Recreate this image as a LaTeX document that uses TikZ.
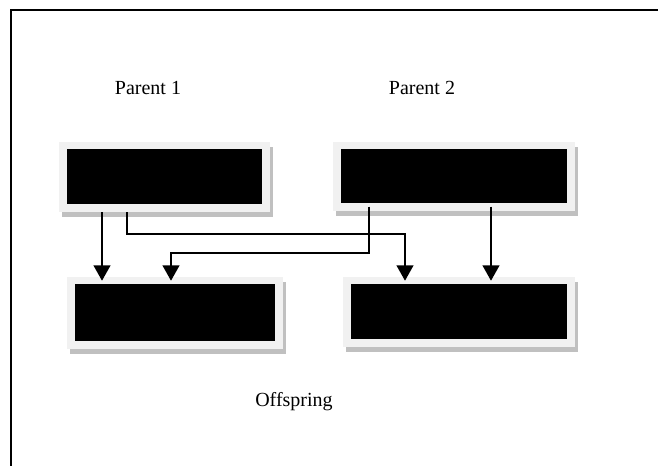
\documentclass[tikz,border=0pt]{standalone}
\usepackage{fontspec}
\setmainfont{Liberation Serif}
\usetikzlibrary{arrows.meta, shadows}
\definecolor{framegrey}{HTML}{F1F1F1}
\definecolor{shadowgrey}{HTML}{C0C0C0}
\tikzstyle{arrow} = [line width=1.5pt, -{Triangle[width=12.5pt, length=11.5pt]}, shorten >=-3pt]
\tikzstyle{chromosome} = [rectangle, inner sep=0pt, fill=framegrey,
  drop shadow={shadow xshift=2.5pt, shadow yshift=-3.5pt, fill=shadowgrey, opacity=1},
  path picture={\fill[black] ([shift={(6pt,-5.5pt)}]path picture bounding box.north west)
    rectangle ([shift={(-6pt,6pt)}]path picture bounding box.south east);}]
\tikzstyle{label} = [anchor=base, font=\fontsize{15}{18}\selectfont]

\begin{document}
\begin{tikzpicture}[x=0.75pt, y=-0.75pt]
\useasboundingbox (0,0) rectangle (658,466);
\draw[line width=1.5pt] (10.5,466) |- (658,10);

% Parents
\node (p1) [chromosome, minimum width=158.25pt, minimum height=52.5pt] at (164.5,177) {};
\node (p2) [chromosome, minimum width=181.5pt, minimum height=51.75pt] at (454,176.5) {};
\node (lab1) [label] at (148,95) {Parent 1};
\node (lab2) [label] at (422,95) {Parent 2};

% Offspring
\node (o1) [chromosome, minimum width=162pt, minimum height=54pt] at (175,313) {};
\node (o2) [chromosome, minimum width=174pt, minimum height=52.5pt] at (459,312) {};
\node (lab3) [label] at (294,407) {Offspring};

% Connections
\draw [arrow] (p1.south -| 102,0) -- (o1.north -| 102,0);
\draw [arrow] (p1.south -| 127,0) -- (127,234) -| (o2.north -| 405,0);
\draw [arrow, shorten <=-3.5pt] (p2.south -| 369,0) -- (369,253) -| (o1.north -| 171,0);
\draw [arrow, shorten <=-3.5pt] (p2.south -| 491,0) -- (o2.north -| 491,0);

\end{tikzpicture}
\end{document}
